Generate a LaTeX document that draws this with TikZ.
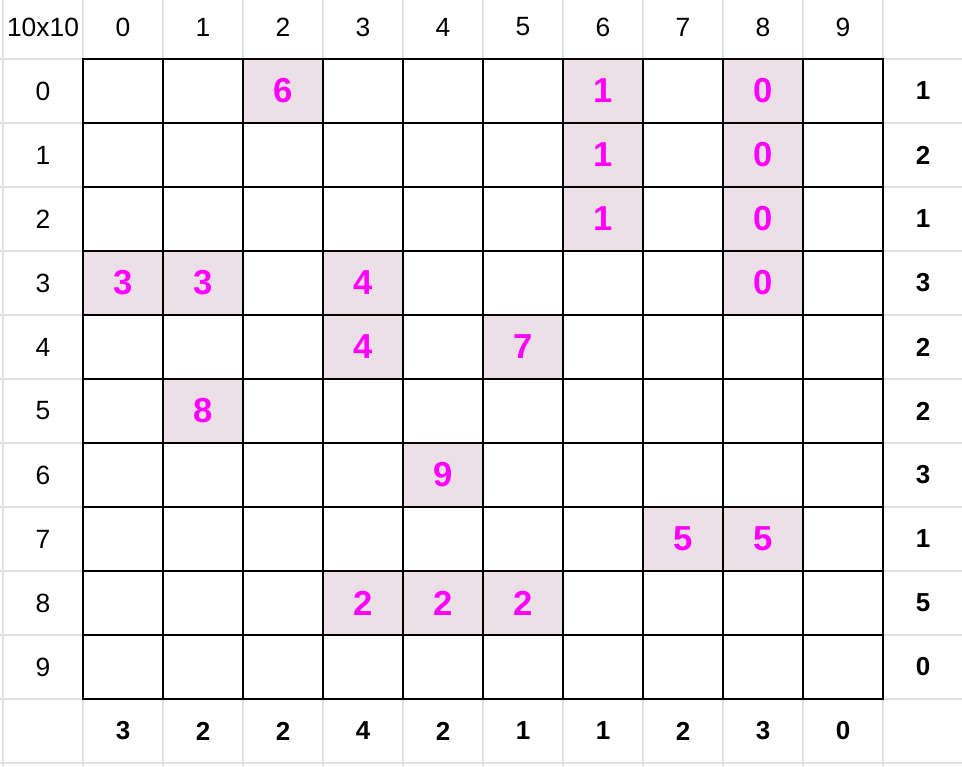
\documentclass[tikz,border=0pt]{standalone}
\usepackage{fontspec}
\setmainfont{Liberation Sans}
\definecolor{cellpink}{RGB}{236,223,230}
\definecolor{sheetgray}{RGB}{224,224,224}
\definecolor{hintmag}{RGB}{255,0,255}

\begin{document}
\begin{tikzpicture}[x=60pt,y=-48pt,
	hint/.style={shape=rectangle,fill=cellpink,minimum width=60pt,minimum height=48pt,inner sep=0pt,text=hintmag,font=\fontsize{26}{26}\selectfont\bfseries},
	head/.style={font=\fontsize{19.8}{20}\selectfont},
	total/.style={font=\fontsize{19.5}{20}\selectfont\bfseries}]
	\fill[white] (-1.0375,-0.922) rectangle (10.9875,11.047);
	\useasboundingbox (-1.0375,-0.922) rectangle (10.9875,11.047);
	% spreadsheet lines
	\foreach \x in {-1,...,10} \draw[sheetgray,line width=1.1pt] (\x,-0.922) -- (\x,11.047);
	\foreach \y in {0,...,11} \draw[sheetgray,line width=1.1pt] (-1.0375,\y) -- (10.9875,\y);
	% given cells
	\node[hint] (r0c2) at (2.5,0.5) {6};
	\node[hint] (r0c6) at (6.5,0.5) {1};
	\node[hint] (r0c8) at (8.5,0.5) {0};
	\node[hint] (r1c6) at (6.5,1.5) {1};
	\node[hint] (r1c8) at (8.5,1.5) {0};
	\node[hint] (r2c6) at (6.5,2.5) {1};
	\node[hint] (r2c8) at (8.5,2.5) {0};
	\node[hint] (r3c0) at (0.5,3.5) {3};
	\node[hint] (r3c1) at (1.5,3.5) {3};
	\node[hint] (r3c3) at (3.5,3.5) {4};
	\node[hint] (r3c8) at (8.5,3.5) {0};
	\node[hint] (r4c3) at (3.5,4.5) {4};
	\node[hint] (r4c5) at (5.5,4.5) {7};
	\node[hint] (r5c1) at (1.5,5.5) {8};
	\node[hint] (r6c4) at (4.5,6.5) {9};
	\node[hint] (r7c7) at (7.5,7.5) {5};
	\node[hint] (r7c8) at (8.5,7.5) {5};
	\node[hint] (r8c3) at (3.5,8.5) {2};
	\node[hint] (r8c4) at (4.5,8.5) {2};
	\node[hint] (r8c5) at (5.5,8.5) {2};
	% board
	\foreach \i in {0,...,10} \draw[line width=1.5pt,line cap=rect] (\i,0) -- (\i,10);
	\foreach \i in {0,...,10} \draw[line width=1.5pt,line cap=rect] (0,\i) -- (10,\i);
	% headers and totals
	\node[head] (corner) at (-0.5,-0.5) {10x10};
	\foreach \c in {0,...,9} \node[head] (col\c) at (\c+0.5,-0.5) {\c};
	\foreach \r in {0,...,9} \node[head] (row\r) at (-0.5,\r+0.5) {\r};
	\foreach \r/\n in {0/1,1/2,2/1,3/3,4/2,5/2,6/3,7/1,8/5,9/0} \node[total] (rsum\r) at (10.5,\r+0.5) {\n};
	\foreach \c/\n in {0/3,1/2,2/2,3/4,4/2,5/1,6/1,7/2,8/3,9/0} \node[total] (csum\c) at (\c+0.5,10.5) {\n};
\end{tikzpicture}
\end{document}
